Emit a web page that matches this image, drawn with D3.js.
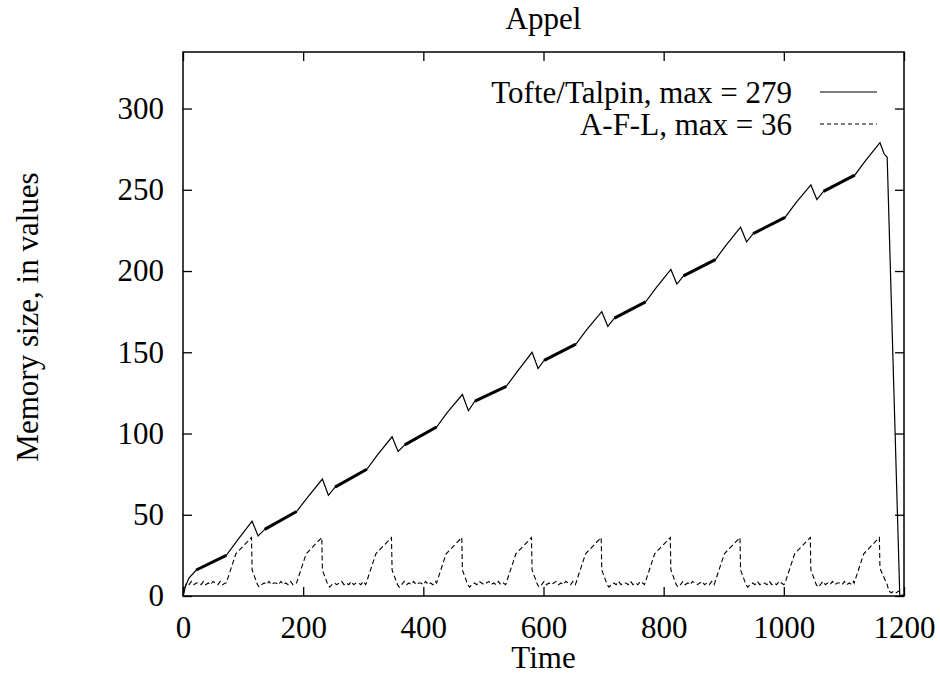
<!DOCTYPE html>
<html>
<head>
<meta charset="utf-8">
<script src="https://cdn.jsdelivr.net/npm/d3@7"></script>
<style>
  body { margin: 0; background: #fff; }
  svg { display: block; }
  text { font-family: "Liberation Serif", "Times New Roman", serif; fill: #000; }
</style>
</head>
<body>
<svg id="chart" width="940" height="675"></svg>
<script>
// ---- data ----
const title = "Appel";
const xTicks = [0, 200, 400, 600, 800, 1000, 1200];
const yTicks = [0, 50, 100, 150, 200, 250, 300];
const seriesNames = ["Tofte/Talpin, max = 279", "A-F-L, max = 36"];

// Tofte/Talpin: [time, values]
const tofteTalpin = [
  [0,0],[4,6],[10,11],[22,16],
  [72,25],[92,35],[115,46],
  [125,37],[136,41],[189,52],[208,61],[232,72],
  [242,62],[253,67],[306,78],[324,87],[348,98],
  [358,89],[369,93],[422,104],[440,113],[465,124],
  [475,114],[486,120],[538,129],[556,138],[581,150],
  [591,140],[601,145],[654,155],[672,164],[697,175],
  [707,166],[718,171],[770,181],[788,190],[812,201],
  [822,192],[833,197],[886,207],[904,216],[928,227],
  [938,218],[949,223],[1002,233],[1020,242],[1045,253],
  [1055,244],[1066,249],[1118,259],[1136,268],[1160,279],
  [1167,272],[1172,270],[1193,0],[1200,0]
];
// stretches where the Tofte/Talpin curve jitters densely (drawn as a thick band)
const denseStretches = [
  [22,72],[136,189],[253,306],[369,422],[486,538],
  [601,654],[718,770],[833,886],[949,1002],[1066,1118]
];

// A-F-L: [time, values]
const afl = [
  [0,0],[3,5],[6,8],[10,7],[14,9],[18,7],[22,8],[26,8],[30,7],[34,9],[38,7],[42,8],[46,7],[50,9],[54,8],[58,7],[62,9],[66,7],[70,8],
  [72,8],[88,26],[114,36],[115,16],[124,7],[127,5.5],[131,7],
  [135,8],[139,7],[143,9],[147,7],[151,8],[155,8],[159,7],[163,9],[167,7],[171,8],[175,7],[179,9],[183,7],[187,8],
  [189,8],[205,26],[231,36],[232,16],[241,7],[244,5.5],[248,7],
  [252,8],[256,7],[260,8],[264,9],[268,7],[272,8],[276,7],[280,9],[284,7],[288,8],[292,8],[296,7],[300,9],[304,7],
  [305,8],[321,26],[347,36],[348,16],[357,7],[360,5.5],[364,7],
  [368,9],[372,7],[376,8],[380,7],[384,9],[388,7],[392,8],[396,8],[400,7],[404,9],[408,7],[412,8],[416,7],[420,9],
  [422,8],[438,26],[464,36],[465,16],[474,7],[477,5.5],[481,7],
  [485,8],[489,7],[493,9],[497,8],[501,7],[505,8],[509,9],[513,7],[517,8],[521,7],[525,9],[529,7],[533,8],[537,7],
  [538,8],[554,26],[580,36],[581,16],[590,7],[593,5.5],[597,7],
  [601,9],[605,7],[609,8],[613,7],[617,8],[621,9],[625,7],[629,8],[633,7],[637,9],[641,8],[645,7],[649,9],[653,7],
  [654,8],[670,26],[696,36],[697,16],[706,7],[709,5.5],[713,7],
  [717,8],[721,7],[725,9],[729,7],[733,8],[737,8],[741,7],[745,9],[749,7],[753,8],[757,7],[761,9],[765,8],[768,7],
  [769,8],[785,26],[811,36],[812,16],[821,7],[824,5.5],[828,7],
  [832,9],[836,7],[840,8],[844,7],[848,9],[852,8],[856,7],[860,8],[864,9],[868,7],[872,8],[876,7],[880,9],[884,7],
  [885,8],[901,26],[927,36],[928,16],[937,7],[940,5.5],[944,7],
  [948,8],[952,7],[956,9],[960,7],[964,8],[968,8],[972,7],[976,9],[980,7],[984,8],[988,7],[992,9],[996,8],[1000,7],
  [1002,8],[1018,26],[1044,36],[1045,16],[1054,7],[1057,5.5],[1061,7],
  [1065,9],[1069,7],[1073,8],[1077,7],[1081,9],[1085,7],[1089,8],[1093,8],[1097,7],[1101,9],[1105,7],[1109,8],[1113,7],[1116,9],
  [1117,8],[1133,26],[1159,36],[1160,17],[1172,7],[1175,3],[1179,2],[1183,3],[1187,2],[1191,3],[1195,2],[1198,0]
];

// ---- layout ----
const svg = d3.select("#chart");
const plotL = 183, plotR = 904, plotT = 52, plotB = 596;
const fontSize = 31;
const serif = "Liberation Serif, Times New Roman, serif";

const x = d3.scaleLinear().domain([0, 1200]).range([plotL, plotR]);
const y = d3.scaleLinear().domain([0, 334.8]).range([plotB, plotT]);

const line = d3.line().x(d => x(d[0])).y(d => y(d[1]));

// axes, ticks pointing inward on all four sides
const axisBottom = d3.axisBottom(x).tickValues(xTicks).tickFormat(d3.format("d"))
  .tickSizeInner(-9).tickSizeOuter(0).tickPadding(20);
const axisTop    = d3.axisTop(x).tickValues(xTicks).tickSizeInner(-9).tickSizeOuter(0).tickFormat("");
const axisLeft   = d3.axisLeft(y).tickValues(yTicks).tickFormat(d3.format("d"))
  .tickSizeInner(-9).tickSizeOuter(0).tickPadding(19);
const axisRight  = d3.axisRight(y).tickValues(yTicks).tickSizeInner(-9).tickSizeOuter(0).tickFormat("");

function styleAxis(g) {
  g.attr("font-size", fontSize).attr("font-family", serif);
  g.select(".domain").remove();
  g.selectAll(".tick line").attr("stroke", "#000").attr("stroke-width", 1.3);
  g.selectAll(".tick text").attr("fill", "#000");
}

svg.append("g").attr("transform", `translate(0,${plotB})`).call(axisBottom).call(styleAxis);
svg.append("g").attr("transform", `translate(0,${plotT})`).call(axisTop).call(styleAxis);
svg.append("g").attr("transform", `translate(${plotL},0)`).call(axisLeft).call(styleAxis);
svg.append("g").attr("transform", `translate(${plotR},0)`).call(axisRight).call(styleAxis);

// frame
svg.append("rect")
  .attr("x", plotL).attr("y", plotT)
  .attr("width", plotR - plotL).attr("height", plotB - plotT)
  .attr("fill", "none").attr("stroke", "#000").attr("stroke-width", 1.5);

// series
const gData = svg.append("g");
gData.append("path")
  .attr("d", line(tofteTalpin))
  .attr("fill", "none").attr("stroke", "#000").attr("stroke-width", 1.2);

denseStretches.forEach(([a, b]) => {
  const pts = tofteTalpin.filter(d => d[0] >= a && d[0] <= b);
  gData.append("path")
    .attr("d", line(pts))
    .attr("fill", "none").attr("stroke", "#000").attr("stroke-width", 3);
});

gData.append("path")
  .attr("d", line(afl))
  .attr("fill", "none").attr("stroke", "#000").attr("stroke-width", 1.1)
  .attr("stroke-dasharray", "5,3");

// legend
const legend = svg.append("g");
const legendRows = [
  { name: seriesNames[0], dash: null, y: 92 },
  { name: seriesNames[1], dash: "4,3", y: 124 }
];
legendRows.forEach(r => {
  legend.append("text")
    .attr("x", 792).attr("y", r.y + 11)
    .attr("text-anchor", "end")
    .attr("font-size", fontSize)
    .text(r.name);
  legend.append("line")
    .attr("x1", 820).attr("x2", 877)
    .attr("y1", r.y).attr("y2", r.y)
    .attr("stroke", "#000").attr("stroke-width", 1.1)
    .attr("stroke-dasharray", r.dash);
});

// titles
svg.append("text")
  .attr("x", (plotL + plotR) / 2).attr("y", 29)
  .attr("text-anchor", "middle").attr("font-size", fontSize)
  .text(title);

svg.append("text")
  .attr("x", (plotL + plotR) / 2).attr("y", 668)
  .attr("text-anchor", "middle").attr("font-size", fontSize)
  .text("Time");

svg.append("text")
  .attr("transform", "translate(38,317) rotate(-90)")
  .attr("text-anchor", "middle").attr("font-size", fontSize)
  .text("Memory size, in values");
</script>
</body>
</html>
